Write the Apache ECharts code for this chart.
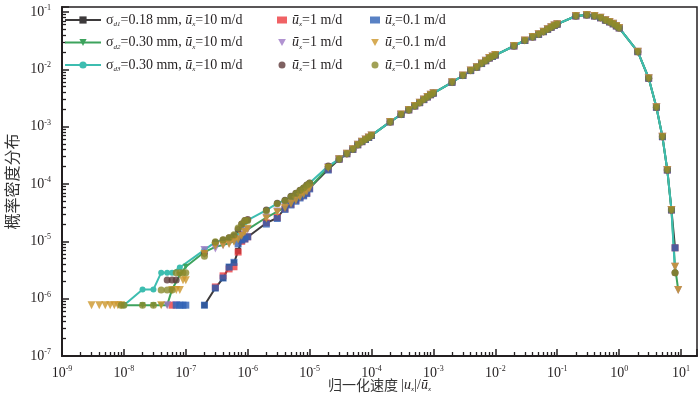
<!DOCTYPE html>
<html>
<head>
<meta charset="utf-8">
<script src="https://cdn.jsdelivr.net/npm/echarts@6/dist/echarts.min.js"></script>
<style>
  html, body { margin: 0; padding: 0; background: #fff; }
  #chart { width: 700px; height: 398px; }
</style>
</head>
<body>
<div id="chart"></div>
<script>
// 归一化速度概率密度分布（双对数坐标）
const INK = '#231f20';
const SERIF = '"Liberation Serif", "Times New Roman", serif';
const CJK = '"Noto Sans CJK SC", sans-serif';

// 各工况共用的主曲线段 (3e-5 之后)
const xCommon = [3e-5, 4e-5, 5e-5, 6e-5, 7e-5, 8e-5, 9e-5,
  1e-4, 2e-4, 3e-4, 4e-4, 5e-4, 6e-4, 7e-4, 8e-4, 9e-4,
  1e-3, 2e-3, 3e-3, 4e-3, 5e-3, 6e-3, 7e-3, 8e-3, 9e-3,
  1e-2, 2e-2, 3e-2, 4e-2, 5e-2, 6e-2, 7e-2, 8e-2, 9e-2,
  0.1, 0.2, 0.3, 0.4, 0.5, 0.6, 0.7, 0.8, 0.9,
  1, 2, 3, 4, 5, 6, 7];
const yCommon = [2.71e-4, 3.37e-4, 4.02e-4, 4.82e-4, 5.47e-4, 5.97e-4, 6.47e-4,
  7.03e-4, 1.21e-3, 1.63e-3, 1.96e-3, 2.29e-3, 2.62e-3, 2.96e-3, 3.29e-3, 3.6e-3,
  3.84e-3, 5.94e-3, 7.8e-3, 9.5e-3, 1.09e-2, 1.26e-2, 1.41e-2, 1.57e-2, 1.67e-2,
  1.77e-2, 2.55e-2, 3.18e-2, 3.66e-2, 4.07e-2, 4.53e-2, 4.99e-2, 5.42e-2, 5.83e-2,
  6.12e-2, 8.5e-2, 8.87e-2, 8.5e-2, 7.9e-2, 7.2e-2, 6.7e-2, 6.2e-2, 5.7e-2,
  5.26e-2, 2.03e-2, 6.98e-3, 2.18e-3, 6.68e-4, 1.75e-4, 3.52e-5];

// σd1 = 0.18 mm, 10 m/d
const xLowD1 = [2e-7, 3e-7, 4e-7, 5e-7, 6e-7, 7e-7, 8e-7, 9e-7, 1e-6, 2e-6, 3e-6, 4e-6, 5e-6, 6e-6, 7e-6, 8e-6, 9e-6, 1e-5, 2e-5];
const yLowD1 = [7.7e-7, 1.53e-6, 2.29e-6, 3.56e-6, 4.19e-6, 6.8e-6, 1.05e-5, 1.1e-5, 1.19e-5, 2.09e-5, 2.55e-5, 3.81e-5, 4.48e-5, 5.26e-5, 5.93e-5, 6.43e-5, 6.97e-5, 8.5e-5, 1.8e-4];
const xTailD1 = [8];
const yTailD1 = [7.7e-6];
// σd2 = 0.30 mm, 10 m/d
const xLowD2 = [1e-8, 2e-8, 3e-8, 4e-8, 5e-8, 6e-8, 8e-8, 1e-7, 2e-7, 3e-7, 4e-7, 5e-7, 6e-7, 7e-7, 8e-7, 9e-7, 1e-6, 2e-6, 3e-6, 4e-6, 5e-6, 6e-6, 7e-6, 8e-6, 9e-6, 1e-5, 2e-5];
const yLowD2 = [7.7e-7, 7.7e-7, 7.7e-7, 7.7e-7, 7.7e-7, 1.45e-6, 2.59e-6, 3.6e-6, 6.5e-6, 8.0e-6, 8.6e-6, 9.3e-6, 1.0e-5, 1.12e-5, 1.3e-5, 1.5e-5, 1.62e-5, 2.6e-5, 3.3e-5, 3.9e-5, 4.6e-5, 5.3e-5, 6.0e-5, 6.8e-5, 7.5e-5, 8.6e-5, 1.95e-4];
const xTailD2 = [8, 9];
const yTailD2 = [3.6e-6, 1.42e-6];
// σd3 = 0.30 mm, 10 m/d
const xLowD3 = [1e-8, 2e-8, 3e-8, 4e-8, 5e-8, 6e-8, 8e-8, 2e-7, 3e-7, 4e-7, 5e-7, 6e-7, 7e-7, 8e-7, 9e-7, 1e-6, 2e-6, 3e-6, 4e-6, 5e-6, 6e-6, 7e-6, 8e-6, 9e-6, 1e-5, 2e-5];
const yLowD3 = [7.7e-7, 1.45e-6, 1.45e-6, 2.84e-6, 2.84e-6, 2.84e-6, 3.5e-6, 7.1e-6, 9.7e-6, 1.05e-5, 1.14e-5, 1.23e-5, 1.45e-5, 1.83e-5, 2.15e-5, 2.34e-5, 3.5e-5, 4.6e-5, 5.2e-5, 6.1e-5, 6.9e-5, 7.8e-5, 8.5e-5, 9.6e-5, 1.04e-4, 2.06e-4];
const xTailD3 = [8];
const yTailD3 = [2.84e-6];

// 1 m/d
const xRed = [6e-8, 3e-7, 4e-7, 5e-7, 6e-7, 7e-7, 8e-7, 9e-7, 1e-6, 2e-6, 3e-6, 4e-6, 5e-6, 6e-6, 7e-6, 8e-6, 9e-6, 1e-5, 2e-5];
const yRed = [7.7e-7, 1.6e-6, 2.5e-6, 3.3e-6, 3.6e-6, 6.5e-6, 1.0e-5, 1.1e-5, 1.2e-5, 2.1e-5, 2.6e-5, 3.7e-5, 4.4e-5, 5.2e-5, 5.9e-5, 6.4e-5, 7.0e-5, 8.4e-5, 1.8e-4];
const xPurple = [5e-8, 7e-8, 2e-7, 3e-7, 4e-7, 5e-7, 6e-7, 7e-7, 8e-7, 9e-7, 1e-6, 2e-6, 3e-6, 4e-6, 5e-6, 6e-6, 7e-6, 8e-6, 9e-6, 1e-5, 2e-5];
const yPurple = [7.7e-7, 7.7e-7, 7.06e-6, 7.5e-6, 8.5e-6, 9.2e-6, 1.0e-5, 1.1e-5, 1.3e-5, 1.5e-5, 1.6e-5, 2.6e-5, 3.3e-5, 4.0e-5, 4.6e-5, 5.3e-5, 6.0e-5, 6.8e-5, 7.5e-5, 8.6e-5, 1.95e-4];
const xBrown = [5e-8, 6e-8, 7e-8, 2e-7, 3e-7, 4e-7, 5e-7, 6e-7, 7e-7, 8e-7, 9e-7, 1e-6, 2e-6, 3e-6, 4e-6, 5e-6, 6e-6, 7e-6, 8e-6, 9e-6, 1e-5, 2e-5];
const yBrown = [2.11e-6, 2.11e-6, 2.11e-6, 6.2e-6, 9.5e-6, 1.05e-5, 1.15e-5, 1.25e-5, 1.6e-5, 2.0e-5, 2.3e-5, 2.4e-5, 3.5e-5, 4.6e-5, 5.2e-5, 6.1e-5, 6.9e-5, 7.8e-5, 8.5e-5, 9.6e-5, 1.04e-4, 2.06e-4];
// 0.1 m/d
const xBlue = [7e-8, 8e-8, 9e-8, 1e-7, 2e-7, 3e-7, 4e-7, 5e-7, 6e-7, 7e-7, 8e-7, 9e-7, 1e-6, 2e-6, 3e-6, 4e-6, 5e-6, 6e-6, 7e-6, 8e-6, 9e-6, 1e-5, 2e-5];
const yBlue = [7.7e-7, 7.7e-7, 7.7e-7, 7.7e-7, 7.7e-7, 1.53e-6, 2.29e-6, 3.56e-6, 4.3e-6, 9.0e-6, 1.05e-5, 1.1e-5, 1.2e-5, 2.0e-5, 2.5e-5, 3.6e-5, 4.3e-5, 5.0e-5, 5.7e-5, 6.2e-5, 6.8e-5, 8.2e-5, 1.75e-4];
const xOrange = [3e-9, 4e-9, 5e-9, 6e-9, 7e-9, 8e-9, 9e-9, 4e-8, 6e-8, 7e-8, 8e-8, 9e-8, 1e-7, 2e-7, 3e-7, 4e-7, 5e-7, 6e-7, 7e-7, 8e-7, 9e-7, 1e-6, 2e-6, 3e-6, 4e-6, 5e-6, 6e-6, 7e-6, 8e-6, 9e-6, 1e-5, 2e-5];
const yOrange = [7.7e-7, 7.7e-7, 7.7e-7, 7.7e-7, 7.7e-7, 7.7e-7, 7.7e-7, 7.7e-7, 1.42e-6, 1.42e-6, 1.42e-6, 2.1e-6, 2.1e-6, 6.0e-6, 8.3e-6, 8.6e-6, 9.0e-6, 9.8e-6, 1.08e-5, 1.25e-5, 1.45e-5, 1.65e-5, 2.5e-5, 3.2e-5, 3.8e-5, 4.5e-5, 5.2e-5, 5.9e-5, 6.6e-5, 7.4e-5, 8.4e-5, 1.9e-4];
const xOlive = [9e-9, 1e-8, 2e-8, 3e-8, 4e-8, 5e-8, 6e-8, 7e-8, 8e-8, 9e-8, 1e-7, 2e-7, 3e-7, 4e-7, 5e-7, 6e-7, 7e-7, 8e-7, 9e-7, 1e-6, 2e-6, 3e-6, 4e-6, 5e-6, 6e-6, 7e-6, 8e-6, 9e-6, 1e-5, 2e-5];
const yOlive = [7.7e-7, 7.7e-7, 7.7e-7, 7.7e-7, 1.42e-6, 1.42e-6, 1.42e-6, 2.84e-6, 2.84e-6, 2.84e-6, 2.84e-6, 5.5e-6, 9.8e-6, 1.06e-5, 1.15e-5, 1.3e-5, 1.7e-5, 2.0e-5, 2.3e-5, 2.3e-5, 3.4e-5, 4.5e-5, 5.1e-5, 6.0e-5, 6.8e-5, 7.7e-5, 8.5e-5, 9.5e-5, 1.03e-4, 2.0e-4];

// 坐标范围
const X_MIN = 1e-9, X_MAX = 18.1;
const Y_MIN = 1e-7, Y_MAX = 0.122;

// 次刻度位置：log10(k × 10^n), k = 2..9
const xMinorExp = [], yMinorExp = [];
for (let d = -9; d <= 0; d++) for (let k = 2; k <= 9; k++) xMinorExp.push(d + Math.log10(k));
for (let d = -7; d <= -2; d++) for (let k = 2; k <= 9; k++) yMinorExp.push(d + Math.log10(k));

function pts(xs, ys) {
  return xs.map((x, i) => [x, ys[i]]);
}
function curve(xLow, yLow, xTail, yTail) {
  return pts(xLow.concat(xCommon, xTail), yLow.concat(yCommon, yTail));
}

const legendText = {
  d1_10: '{t|σ}{s|d1}{t|=0.18 mm, }{i|ū}{s|x}{t|=10 m/d}',
  d2_10: '{t|σ}{s|d2}{t|=0.30 mm, }{i|ū}{s|x}{t|=10 m/d}',
  d3_10: '{t|σ}{s|d3}{t|=0.30 mm, }{i|ū}{s|x}{t|=10 m/d}',
  d1_1: '{i|ū}{s|x}{t|=1 m/d}',
  d2_1: '{i|ū}{s|x}{t|=1 m/d}',
  d3_1: '{i|ū}{s|x}{t|=1 m/d}',
  d1_01: '{i|ū}{s|x}{t|=0.1 m/d}',
  d2_01: '{i|ū}{s|x}{t|=0.1 m/d}',
  d3_01: '{i|ū}{s|x}{t|=0.1 m/d}'
};
const richText = {
  t: { fontFamily: SERIF, fontSize: 14, color: INK, lineHeight: 16 },
  i: { fontFamily: SERIF, fontStyle: 'italic', fontSize: 14, color: INK, lineHeight: 16 },
  s: { fontFamily: SERIF, fontStyle: 'italic', fontSize: 7, color: INK, lineHeight: 7, verticalAlign: 'bottom' }
};
const TRI_DOWN = 'path://M0,0L10,0L5,9Z';

function powLabel(v) {
  const e = Math.log10(v);
  const r = Math.round(e);
  if (Math.abs(e - r) > 1e-6) return '';
  return '{b|10}{p|' + r + '}';
}
const tickRich = {
  b: { fontFamily: SERIF, fontSize: 14, color: INK, lineHeight: 16 },
  p: { fontFamily: SERIF, fontSize: 8, color: INK, lineHeight: 8, verticalAlign: 'top' }
};

function legendBlock(left, names, w, h) {
  return {
    left: left, top: 13, orient: 'vertical', padding: 0,
    itemGap: 7.5, itemWidth: w, itemHeight: h,
    selectedMode: false, data: names,
    formatter: n => legendText[n],
    textStyle: { rich: richText }
  };
}

function lineSeries(name, color, symbol, data, rotate) {
  return {
    name: name, type: 'line', data: data, z: 2,
    symbol: symbol, symbolSize: 6, symbolRotate: rotate || 0,
    lineStyle: { color: color, width: 2 },
    itemStyle: { color: color },
    emphasis: { disabled: true }
  };
}
function dotSeries(name, color, symbol, data, size, rotate) {
  return {
    name: name, type: 'scatter', data: data, z: 3,
    symbol: symbol, symbolSize: size, symbolRotate: rotate || 0,
    itemStyle: { color: color },
    emphasis: { disabled: true }
  };
}
// 次刻度用的叠加坐标轴（以指数为单位的线性轴）
function minorAxis(gridIndex, min, max, values, pos) {
  return {
    type: 'value', gridIndex: gridIndex, min: min, max: max, position: pos,
    axisLine: { show: false, onZero: false },
    axisLabel: { show: false },
    axisTick: { inside: true, length: 4, customValues: values, lineStyle: { color: INK, width: 1.3 } },
    splitLine: { show: false }
  };
}

const gridBox = { left: 62, right: 3, top: 7, bottom: 42 };

const chart = echarts.init(document.getElementById('chart'), null, { renderer: 'canvas' });
chart.setOption({
  animation: false,
  backgroundColor: '#fff',
  grid: [
    Object.assign({ show: true, borderColor: INK, borderWidth: 1.5, outerBoundsMode: 'none' }, gridBox),
    Object.assign({ show: false, outerBoundsMode: 'none' }, gridBox)
  ],
  legend: [
    legendBlock(64, ['d1_10', 'd2_10', 'd3_10'], 36, 9),
    legendBlock(277, ['d1_1', { name: 'd2_1', icon: TRI_DOWN }, 'd3_1'], 10, 7),
    legendBlock(370, ['d1_01', { name: 'd2_01', icon: TRI_DOWN }, 'd3_01'], 10, 7)
  ],
  xAxis: [
    {
      type: 'log', gridIndex: 0, logBase: 10, min: X_MIN, max: X_MAX, interval: 1,
      axisLine: { onZero: false, lineStyle: { color: INK, width: 2 } },
      axisTick: { inside: true, length: 7, lineStyle: { color: INK, width: 1.5 } },
      axisLabel: { formatter: powLabel, margin: 9, rich: tickRich },
      splitLine: { show: false },
      name: '{c|归一化速度} {t||}{i|u}{s|x}{t||/}{i|ū}{s|x}',
      nameLocation: 'middle', nameGap: 21, nameMoveOverlap: false,
      nameTextStyle: {
        rich: {
          c: { fontFamily: CJK, fontSize: 14, color: '#333', lineHeight: 16 },
          t: richText.t, i: richText.i, s: richText.s
        }
      }
    },
    minorAxis(1, Math.log10(X_MIN), Math.log10(X_MAX), xMinorExp, 'bottom')
  ],
  yAxis: [
    {
      type: 'log', gridIndex: 0, logBase: 10, min: Y_MIN, max: Y_MAX, interval: 1,
      axisLine: { onZero: false, lineStyle: { color: INK, width: 2 } },
      axisTick: { inside: true, length: 7, lineStyle: { color: INK, width: 1.5 } },
      axisLabel: { formatter: powLabel, margin: 11, rich: tickRich },
      splitLine: { show: false },
      name: '概率密度分布', nameLocation: 'middle', nameRotate: 90, nameGap: 41,
      nameTextStyle: { fontFamily: CJK, fontSize: 16, color: '#333' }
    },
    minorAxis(1, Math.log10(Y_MIN), Math.log10(Y_MAX), yMinorExp, 'left')
  ],
  series: [
    lineSeries('d1_10', '#3d3a3b', 'rect', curve(xLowD1, yLowD1, xTailD1, yTailD1)),
    lineSeries('d2_10', '#3da35d', 'triangle', curve(xLowD2, yLowD2, xTailD2, yTailD2), 180),
    lineSeries('d3_10', '#3dbdb0', 'circle', curve(xLowD3, yLowD3, xTailD3, yTailD3)),
    dotSeries('d1_1', '#ec3b3f', 'rect', curve(xRed, yRed, xTailD1, yTailD1), 7),
    dotSeries('d2_1', '#9d78c6', 'triangle', curve(xPurple, yPurple, xTailD2, yTailD2), 8, 180),
    dotSeries('d3_1', '#5f3a3a', 'circle', curve(xBrown, yBrown, xTailD3, yTailD3), 7),
    dotSeries('d1_01', '#2f62b5', 'rect', curve(xBlue, yBlue, xTailD1, yTailD1), 7),
    dotSeries('d2_01', '#cc962a', 'triangle', curve(xOrange, yOrange, xTailD2, yTailD2), 8, 180),
    dotSeries('d3_01', '#898a2c', 'circle', curve(xOlive, yOlive, xTailD3, yTailD3), 7)
  ]
});
</script>
</body>
</html>
